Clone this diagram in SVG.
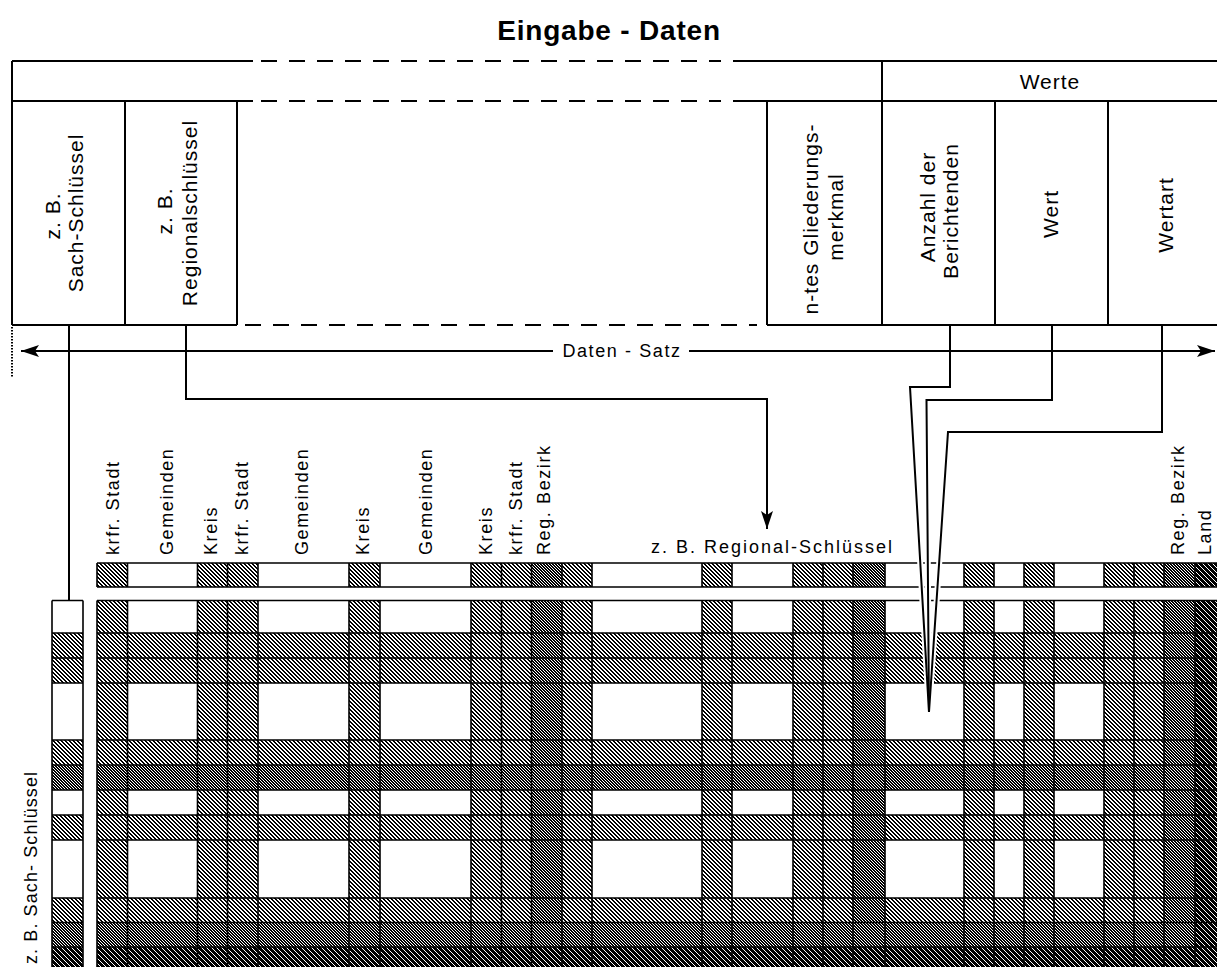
<svg xmlns="http://www.w3.org/2000/svg" width="1217" height="967" viewBox="0 0 1217 967">
<defs>
<style>
text{font-family:"Liberation Sans",Arial,Helvetica,sans-serif;fill:#000}
.title{font-size:28px;font-weight:bold;letter-spacing:0.8px}
.hl{font-size:21px;letter-spacing:1px}
.sl{font-size:18px;letter-spacing:1.6px}
.ln{stroke:#000;stroke-width:2;fill:none}
.ds{stroke:#000;stroke-width:2;fill:none;stroke-dasharray:16 12}
.gl{stroke:#000;stroke-width:1.6;fill:none}
.cn{stroke:#000;stroke-width:2;fill:none}
.halo{stroke:#fff;stroke-width:6;fill:none}
.l1{fill:url(#hL)}
.l2{fill:url(#hD)}
.l3{fill:url(#hB)}
.px{fill:#000;shape-rendering:crispEdges}
</style>
<pattern id="hL" width="4" height="4" patternUnits="userSpaceOnUse"><rect width="4" height="4" fill="#fff"/><path class="px" d="M0,0h2v1h-2zM1,1h2v1h-2zM2,2h2v1h-2zM3,3h1v1h-1zM0,3h1v1h-1z"/></pattern>
<pattern id="hD" width="3" height="3" patternUnits="userSpaceOnUse"><rect width="3" height="3" fill="#fff"/><path class="px" d="M0,0h2v1h-2zM1,1h2v1h-2zM2,2h1v1h-1zM0,2h1v1h-1z"/></pattern>
<pattern id="hB" width="5" height="5" patternUnits="userSpaceOnUse"><rect width="5" height="5" fill="#fff"/><path class="px" d="M0,0h4v1h-4zM1,1h4v1h-4zM2,2h3v1h-3zM0,2h1v1h-1zM3,3h2v1h-2zM0,3h2v1h-2zM4,4h1v1h-1zM0,4h3v1h-3z"/></pattern>
<marker id="ah" viewBox="0 0 18 12" refX="18" refY="6" markerWidth="18" markerHeight="12" markerUnits="userSpaceOnUse" orient="auto"><path d="M0,0L18,6L0,12L4,6z" fill="#000"/></marker>
</defs>
<rect width="1217" height="967" fill="#fff"/>

<g id="title"><text class="title" x="609" y="40" text-anchor="middle">Eingabe - Daten</text></g>

<g id="record-header">
<path class="ln" d="M12,61H253M733,61H1217M12,101H253M733,101H1217M12,325H237M767,325H1217"/>
<path class="ds" d="M261,61H721M261,101H721M245,325H757"/>
<path class="ln" d="M12,61V325M125,101V325M237,101V325M767,101V325M882,61V325M995,101V325M1108,101V325"/>
</g>
<g id="werte"><text class="hl" x="1050" y="89" text-anchor="middle">Werte</text></g>
<g id="field-sach">
<text class="hl" transform="translate(60,216) rotate(-90)" text-anchor="middle">z. B.</text>
<text class="hl" transform="translate(83,213) rotate(-90)" text-anchor="middle">Sach-Schlüssel</text>
</g>
<g id="field-regional">
<text class="hl" transform="translate(172,211) rotate(-90)" text-anchor="middle">z. B.</text>
<text class="hl" transform="translate(197,213) rotate(-90)" text-anchor="middle">Regionalschlüssel</text>
</g>
<g id="field-n">
<text class="hl" transform="translate(818,219) rotate(-90)" text-anchor="middle">n-tes Gliederungs-</text>
<text class="hl" transform="translate(843,217) rotate(-90)" text-anchor="middle">merkmal</text>
</g>
<g id="field-anzahl">
<text class="hl" transform="translate(935,207) rotate(-90)" text-anchor="middle">Anzahl der</text>
<text class="hl" transform="translate(958,211) rotate(-90)" text-anchor="middle">Berichtenden</text>
</g>
<g id="field-wert"><text class="hl" transform="translate(1058,214) rotate(-90)" text-anchor="middle">Wert</text></g>
<g id="field-wertart"><text class="hl" transform="translate(1173,215) rotate(-90)" text-anchor="middle">Wertart</text></g>

<g id="datensatz"><text class="sl" x="622" y="357" text-anchor="middle">Daten - Satz</text></g>

<g id="strip-labels">
<text class="sl" transform="translate(119,555) rotate(-90)">krfr. Stadt</text>
<text class="sl" transform="translate(172.5,555) rotate(-90)">Gemeinden</text>
<text class="sl" transform="translate(216.5,555) rotate(-90)">Kreis</text>
<text class="sl" transform="translate(247.5,555) rotate(-90)">krfr. Stadt</text>
<text class="sl" transform="translate(307.5,555) rotate(-90)">Gemeinden</text>
<text class="sl" transform="translate(368.5,555) rotate(-90)">Kreis</text>
<text class="sl" transform="translate(431.5,555) rotate(-90)">Gemeinden</text>
<text class="sl" transform="translate(491.5,555) rotate(-90)">Kreis</text>
<text class="sl" transform="translate(521.5,555) rotate(-90)">krfr. Stadt</text>
<text class="sl" transform="translate(549.5,555) rotate(-90)">Reg. Bezirk</text>
<text class="sl" transform="translate(1184,555) rotate(-90)">Reg. Bezirk</text>
<text class="sl" transform="translate(1211,555) rotate(-90)">Land</text>
</g>
<g id="regional-label"><text class="sl" style="letter-spacing:2px" x="651" y="553">z. B. Regional-Schlüssel</text></g>

<g id="key-strip">
<rect x="97" y="563" width="1120" height="24" fill="#fff"/>
<rect class="l1" x="97" y="563" width="30.5" height="24"/>
<rect class="l1" x="197.5" y="563" width="30" height="24"/>
<rect class="l1" x="227.5" y="563" width="30.5" height="24"/>
<rect class="l1" x="349" y="563" width="31" height="24"/>
<rect class="l1" x="471" y="563" width="30.5" height="24"/>
<rect class="l1" x="501.5" y="563" width="30" height="24"/>
<rect class="l2" x="531.5" y="563" width="30.5" height="24"/>
<rect class="l1" x="562" y="563" width="30" height="24"/>
<rect class="l1" x="702" y="563" width="30" height="24"/>
<rect class="l1" x="793" y="563" width="30" height="24"/>
<rect class="l1" x="823" y="563" width="30" height="24"/>
<rect class="l2" x="853" y="563" width="32" height="24"/>
<rect class="l1" x="964" y="563" width="30" height="24"/>
<rect class="l1" x="1024" y="563" width="30" height="24"/>
<rect class="l1" x="1104" y="563" width="30" height="24"/>
<rect class="l1" x="1134" y="563" width="30" height="24"/>
<rect class="l2" x="1164" y="563" width="31" height="24"/>
<rect class="l3" x="1195" y="563" width="22" height="24"/>
<path class="gl" d="M97,563H1217M97,587H1217M97,563V587M127.5,563V587M197.5,563V587M227.5,563V587M258,563V587M349,563V587M380,563V587M471,563V587M501.5,563V587M531.5,563V587M562,563V587M592,563V587M702,563V587M732,563V587M793,563V587M823,563V587M853,563V587M885,563V587M964,563V587M994,563V587M1024,563V587M1054,563V587M1104,563V587M1134,563V587M1164,563V587M1195,563V587"/>
</g>

<g id="sach-column">
<rect x="52" y="600.5" width="31" height="366.5" fill="#fff"/>
<rect class="l1" x="52" y="633" width="31" height="25"/>
<rect class="l1" x="52" y="658" width="31" height="25"/>
<rect class="l1" x="52" y="740" width="31" height="25"/>
<rect class="l2" x="52" y="765" width="31" height="25"/>
<rect class="l1" x="52" y="815" width="31" height="25"/>
<rect class="l1" x="52" y="898" width="31" height="24.5"/>
<rect class="l2" x="52" y="922.5" width="31" height="24.5"/>
<rect class="l3" x="52" y="947" width="31" height="20"/>
<path class="gl" d="M52,600.5V967M83,600.5V967M52,600.5H83M52,633H83M52,658H83M52,683H83M52,740H83M52,765H83M52,790H83M52,815H83M52,840H83M52,898H83M52,922.5H83M52,947H83"/>
</g>
<g id="sach-label"><text class="sl" style="letter-spacing:1.1px" transform="translate(37,964) rotate(-90)">z. B. Sach- Schlüssel</text></g>

<g id="matrix">
<rect x="97" y="600.5" width="1120" height="366.5" fill="#fff"/>
<rect class="l1" x="97" y="600.5" width="30.5" height="366.5"/>
<rect class="l1" x="197.5" y="600.5" width="30" height="366.5"/>
<rect class="l1" x="227.5" y="600.5" width="30.5" height="366.5"/>
<rect class="l1" x="349" y="600.5" width="31" height="366.5"/>
<rect class="l1" x="471" y="600.5" width="30.5" height="366.5"/>
<rect class="l1" x="501.5" y="600.5" width="30" height="366.5"/>
<rect class="l1" x="562" y="600.5" width="30" height="366.5"/>
<rect class="l1" x="702" y="600.5" width="30" height="366.5"/>
<rect class="l1" x="793" y="600.5" width="30" height="366.5"/>
<rect class="l1" x="823" y="600.5" width="30" height="366.5"/>
<rect class="l1" x="964" y="600.5" width="30" height="366.5"/>
<rect class="l1" x="1024" y="600.5" width="30" height="366.5"/>
<rect class="l1" x="1104" y="600.5" width="30" height="366.5"/>
<rect class="l1" x="1134" y="600.5" width="30" height="366.5"/>
<rect class="l1" x="97" y="633" width="1120" height="25"/>
<rect class="l1" x="97" y="658" width="1120" height="25"/>
<rect class="l1" x="97" y="740" width="1120" height="25"/>
<rect class="l1" x="97" y="815" width="1120" height="25"/>
<rect class="l1" x="97" y="898" width="1120" height="24.5"/>
<rect class="l2" x="531.5" y="600.5" width="30.5" height="366.5"/>
<rect class="l2" x="853" y="600.5" width="32" height="366.5"/>
<rect class="l2" x="1164" y="600.5" width="31" height="366.5"/>
<rect class="l2" x="97" y="765" width="1120" height="25"/>
<rect class="l2" x="97" y="922.5" width="1120" height="24.5"/>
<rect class="l3" x="1195" y="600.5" width="22" height="366.5"/>
<rect class="l3" x="97" y="947" width="1120" height="20"/>
<path class="gl" d="M97,600.5H1217M97,633H1217M97,658H1217M97,683H1217M97,740H1217M97,765H1217M97,790H1217M97,815H1217M97,840H1217M97,898H1217M97,922.5H1217M97,947H1217"/>
<path class="gl" d="M97,600.5V967M127.5,600.5V967M197.5,600.5V967M227.5,600.5V967M258,600.5V967M349,600.5V967M380,600.5V967M471,600.5V967M501.5,600.5V967M531.5,600.5V967M562,600.5V967M592,600.5V967M702,600.5V967M732,600.5V967M793,600.5V967M823,600.5V967M853,600.5V967M885,600.5V967M964,600.5V967M994,600.5V967M1024,600.5V967M1054,600.5V967M1104,600.5V967M1134,600.5V967M1164,600.5V967M1195,600.5V967"/>
</g>

<g id="connectors">
<path d="M12,327V377" stroke="#000" stroke-width="2" stroke-dasharray="1.5 1.5" fill="none"/>
<path class="cn" d="M553,351H21" marker-end="url(#ah)"/>
<path class="cn" d="M689,351H1215" marker-end="url(#ah)"/>
<path class="cn" d="M69,325V600.5"/>
<path class="cn" d="M186,325V399H767V529" marker-end="url(#ah)"/>
<path class="halo" d="M910,390L929,712M926.5,403L929,712M948,435L929,712"/>
<path class="cn" d="M950,325V387H910L929,712"/>
<path class="cn" d="M1052,325V400H926.5L929,712"/>
<path class="cn" d="M1162,325V432H948L929,712"/>
</g>
</svg>
